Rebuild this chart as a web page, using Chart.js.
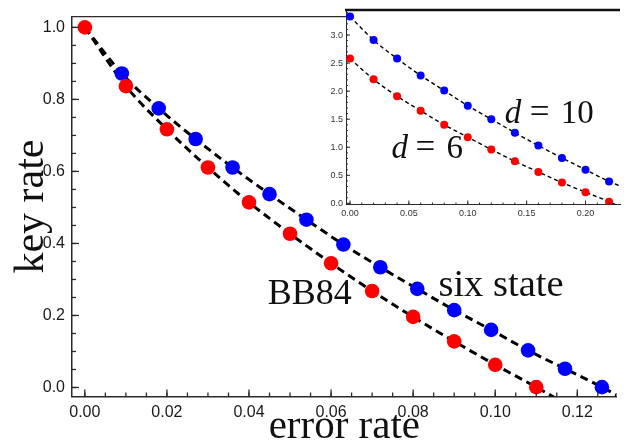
<!DOCTYPE html>
<html><head><meta charset="utf-8">
<script src="https://cdn.jsdelivr.net/npm/chart.js@4.4.1/dist/chart.umd.min.js"></script>
<style>
html,body{margin:0;padding:0;background:#fff;}
#wrap{position:relative;width:624px;height:443px;overflow:hidden;background:#fff;}
#main{position:absolute;left:0;top:0;}
#inset{position:absolute;left:318px;top:0;}
</style></head><body>
<div id="wrap">
<canvas id="main" width="624" height="443"></canvas>
<canvas id="inset" width="306" height="225"></canvas>
</div>
<script>
// ---------- main chart data (error rate -> key rate) ----------
const bb84Error = [0.00, 0.01, 0.02, 0.03, 0.04, 0.05, 0.06, 0.07, 0.08, 0.09, 0.10, 0.11];
const bb84Key   = [1.000, 0.837, 0.717, 0.611, 0.514, 0.427, 0.345, 0.268, 0.196, 0.128, 0.063, 0.001];
const sixError  = [0.009, 0.018, 0.027, 0.036, 0.045, 0.054, 0.063, 0.072, 0.081, 0.090, 0.099, 0.108, 0.117, 0.126];
const sixKey    = [0.872, 0.775, 0.690, 0.611, 0.537, 0.466, 0.397, 0.334, 0.274, 0.215, 0.160, 0.103, 0.052, 0.001];
// dashed theory curves continue past the last marker
const bb84CurveTail = [[0.1160, -0.038]];
const sixCurveHead  = [[0.000, 1.000]];
const sixCurveTail  = [[0.1296, -0.021]];
const mainXTicks = [0.00, 0.02, 0.04, 0.06, 0.08, 0.10, 0.12];
const mainYTicks = [0.0, 0.2, 0.4, 0.6, 0.8, 1.0];

// ---------- inset data (qudit dimension d) ----------
const insetError = [0.00, 0.02, 0.04, 0.06, 0.08, 0.10, 0.12, 0.14, 0.16, 0.18, 0.20, 0.22];
const d10Key = [3.33, 2.91, 2.58, 2.28, 2.01, 1.74, 1.50, 1.26, 1.03, 0.81, 0.60, 0.39];
const d6Key  = [2.58, 2.21, 1.91, 1.65, 1.40, 1.18, 0.96, 0.75, 0.56, 0.37, 0.20, 0.03];
const d10CurveTail = [[0.2293, 0.31]];
const d6CurveTail  = [[0.2293, -0.06]];
const insetXTicks = [0.00, 0.05, 0.10, 0.15, 0.20];
const insetYTicks = [0.0, 0.5, 1.0, 1.5, 2.0, 2.5, 3.0];

const pts = (xs, ys) => xs.map((x, i) => ({x: x, y: ys[i]}));
const tail = arr => arr.map(p => ({x: p[0], y: p[1]}));

const RED = '#ff0000', BLUE = '#0000ff';
const AXIS = '#2b2b2b';

const framePlugin = {
  id: 'frameTicks',
  beforeDraw(chart, args, o) {
    if (!o.fillArea) return;
    const {ctx, chartArea: a} = chart;
    ctx.save(); ctx.fillStyle = '#fff';
    ctx.fillRect(a.left, a.top, a.right - a.left, a.bottom - a.top);
    ctx.restore();
  },
  afterDraw(chart, args, o) {
    const {ctx, chartArea: a, scales} = chart;
    ctx.save();
    ctx.strokeStyle = AXIS; ctx.lineWidth = o.tickWidth;
    const mark = (scale, step, len, horiz) => {
      const s = Math.ceil((scale.min - 1e-9) / step), e = Math.floor((scale.max + 1e-9) / step);
      for (let i = s; i <= e; i++) {
        const p = scale.getPixelForValue(i * step);
        ctx.beginPath();
        if (horiz) { ctx.moveTo(p, a.bottom); ctx.lineTo(p, a.bottom - len); }
        else { ctx.moveTo(a.left, p); ctx.lineTo(a.left + len, p); }
        ctx.stroke();
      }
    };
    mark(scales.x, o.xMinor, o.minorLen, true);
    mark(scales.x, o.xMajor, o.majorLen, true);
    mark(scales.y, o.yMinor, o.minorLen, false);
    mark(scales.y, o.yMajor, o.majorLen, false);
    // top frame line
    ctx.strokeStyle = o.topColor; ctx.lineWidth = o.topWidth;
    ctx.beginPath(); ctx.moveTo(a.left - 1, a.top); ctx.lineTo(a.right, a.top); ctx.stroke();
    // text annotations placed in data units
    ctx.fillStyle = '#111'; ctx.textBaseline = 'alphabetic';
    for (const lab of o.labels) {
      const px = scales.x.getPixelForValue(lab.x), py = scales.y.getPixelForValue(lab.y);
      for (const part of lab.parts) {
        ctx.font = part.font; ctx.textAlign = lab.align || 'left';
        ctx.fillText(part.text, px + (part.dx || 0), py);
      }
    }
    ctx.restore();
  }
};

const serif = "'Liberation Serif', 'Times New Roman', serif";
const sans = "'Liberation Sans', Arial, sans-serif";

new Chart(document.getElementById('main'), {
  type: 'scatter',
  data: {
    datasets: [
      {data: pts(bb84Error, bb84Key), backgroundColor: RED, borderColor: RED, pointRadius: 7.3, pointBorderWidth: 0, showLine: false, order: 1},
      {data: pts(sixError, sixKey), backgroundColor: BLUE, borderColor: BLUE, pointRadius: 7.3, pointBorderWidth: 0, showLine: false, order: 1},
      {data: pts(bb84Error, bb84Key).concat(tail(bb84CurveTail)), showLine: true, pointRadius: 0, borderColor: '#000', borderWidth: 3, borderDash: [8, 5], cubicInterpolationMode: 'monotone', order: 2},
      {data: tail(sixCurveHead).concat(pts(sixError, sixKey), tail(sixCurveTail)), showLine: true, pointRadius: 0, borderColor: '#000', borderWidth: 3, borderDash: [8, 5], cubicInterpolationMode: 'monotone', order: 2}
    ]
  },
  options: {
    responsive: false, animation: false, devicePixelRatio: 1, events: [],
    layout: {padding: {top: 9, left: 0, right: 0, bottom: 0}},
    plugins: {
      legend: {display: false}, tooltip: {enabled: false},
      frameTicks: {
        tickWidth: 1.3, majorLen: 7, minorLen: 4,
        xMajor: 0.02, xMinor: 0.005, yMajor: 0.2, yMinor: 0.05,
        topColor: AXIS, topWidth: 1.3,
        labels: [
          {x: 0.0548, y: 0.231, align: 'center', parts: [{text: 'BB84', font: '36px ' + serif}]},
          {x: 0.1014, y: 0.255, align: 'center', parts: [{text: 'six state', font: '38.5px ' + serif}]}
        ]
      }
    },
    scales: {
      x: {
        type: 'linear', min: -0.00313, max: 0.1296,
        afterBuildTicks: s => { s.ticks = mainXTicks.map(v => ({value: v})); },
        afterFit: s => { s.height = 46.5; },
        grid: {display: false, drawTicks: false},
        border: {display: true, color: AXIS, width: 1.5},
        ticks: {font: {family: sans, size: 16}, color: '#1a1a1a', padding: 6, callback: v => Number(v).toFixed(2), maxRotation: 0, autoSkip: false},
        title: {display: true, text: 'error rate', font: {family: serif, size: 41, lineHeight: 0.75}, color: '#111', padding: 0}
      },
      y: {
        type: 'linear', min: -0.025, max: 1.030,
        afterBuildTicks: s => { s.ticks = mainYTicks.map(v => ({value: v})); },
        afterFit: s => { s.width = 72; },
        grid: {display: false, drawTicks: false},
        border: {display: true, color: AXIS, width: 1.5},
        ticks: {font: {family: sans, size: 16}, color: '#1a1a1a', padding: 7, callback: v => Number(v).toFixed(1), autoSkip: false},
        title: {display: true, text: 'key rate', font: {family: serif, size: 42, lineHeight: 1.52}, color: '#111', padding: 0}
      }
    }
  },
  plugins: [framePlugin]
});

new Chart(document.getElementById('inset'), {
  type: 'scatter',
  data: {
    datasets: [
      {data: pts(insetError, d10Key), backgroundColor: BLUE, borderColor: BLUE, pointRadius: 4, pointBorderWidth: 0, showLine: false, order: 1},
      {data: pts(insetError, d6Key), backgroundColor: RED, borderColor: RED, pointRadius: 4, pointBorderWidth: 0, showLine: false, order: 1},
      {data: pts(insetError, d10Key).concat(tail(d10CurveTail)), showLine: true, pointRadius: 0, borderColor: '#000', borderWidth: 1.4, borderDash: [4, 3], cubicInterpolationMode: 'monotone', order: 2},
      {data: pts(insetError, d6Key).concat(tail(d6CurveTail)), showLine: true, pointRadius: 0, borderColor: '#000', borderWidth: 1.4, borderDash: [4, 3], cubicInterpolationMode: 'monotone', order: 2}
    ]
  },
  options: {
    responsive: false, animation: false, devicePixelRatio: 1, events: [],
    layout: {padding: {top: 10, left: 0, right: 0, bottom: 0}},
    plugins: {
      legend: {display: false}, tooltip: {enabled: false},
      frameTicks: {
        fillArea: true,
        tickWidth: 1, majorLen: 4, minorLen: 2,
        xMajor: 0.05, xMinor: 0.01, yMajor: 0.5, yMinor: 0.1,
        topColor: '#111', topWidth: 2.5,
        labels: [
          {x: 0.1314, y: 1.431, parts: [{text: 'd', font: 'italic 33px ' + serif}, {text: '=', font: '35px ' + serif, dx: 25}, {text: '10', font: '33px ' + serif, dx: 56}]},
          {x: 0.0353, y: 0.807, parts: [{text: 'd', font: 'italic 33px ' + serif}, {text: '=', font: '35px ' + serif, dx: 24}, {text: '6', font: '33px ' + serif, dx: 55}]}
        ]
      }
    },
    scales: {
      x: {
        type: 'linear', min: -0.0034, max: 0.2293,
        afterBuildTicks: s => { s.ticks = insetXTicks.map(v => ({value: v})); },
        afterFit: s => { s.height = 20.5; },
        grid: {display: false, drawTicks: false},
        border: {display: true, color: AXIS, width: 1},
        ticks: {font: {family: sans, size: 9}, color: '#333', padding: 4, callback: v => Number(v).toFixed(2), maxRotation: 0, autoSkip: false}
      },
      y: {
        type: 'linear', min: -0.02, max: 3.446,
        afterBuildTicks: s => { s.ticks = insetYTicks.map(v => ({value: v})); },
        afterFit: s => { s.width = 28; },
        grid: {display: false, drawTicks: false},
        border: {display: true, color: AXIS, width: 1},
        ticks: {font: {family: sans, size: 9}, color: '#333', padding: 3, callback: v => Number(v).toFixed(1), autoSkip: false}
      }
    }
  },
  plugins: [framePlugin]
});
</script>
</body></html>
